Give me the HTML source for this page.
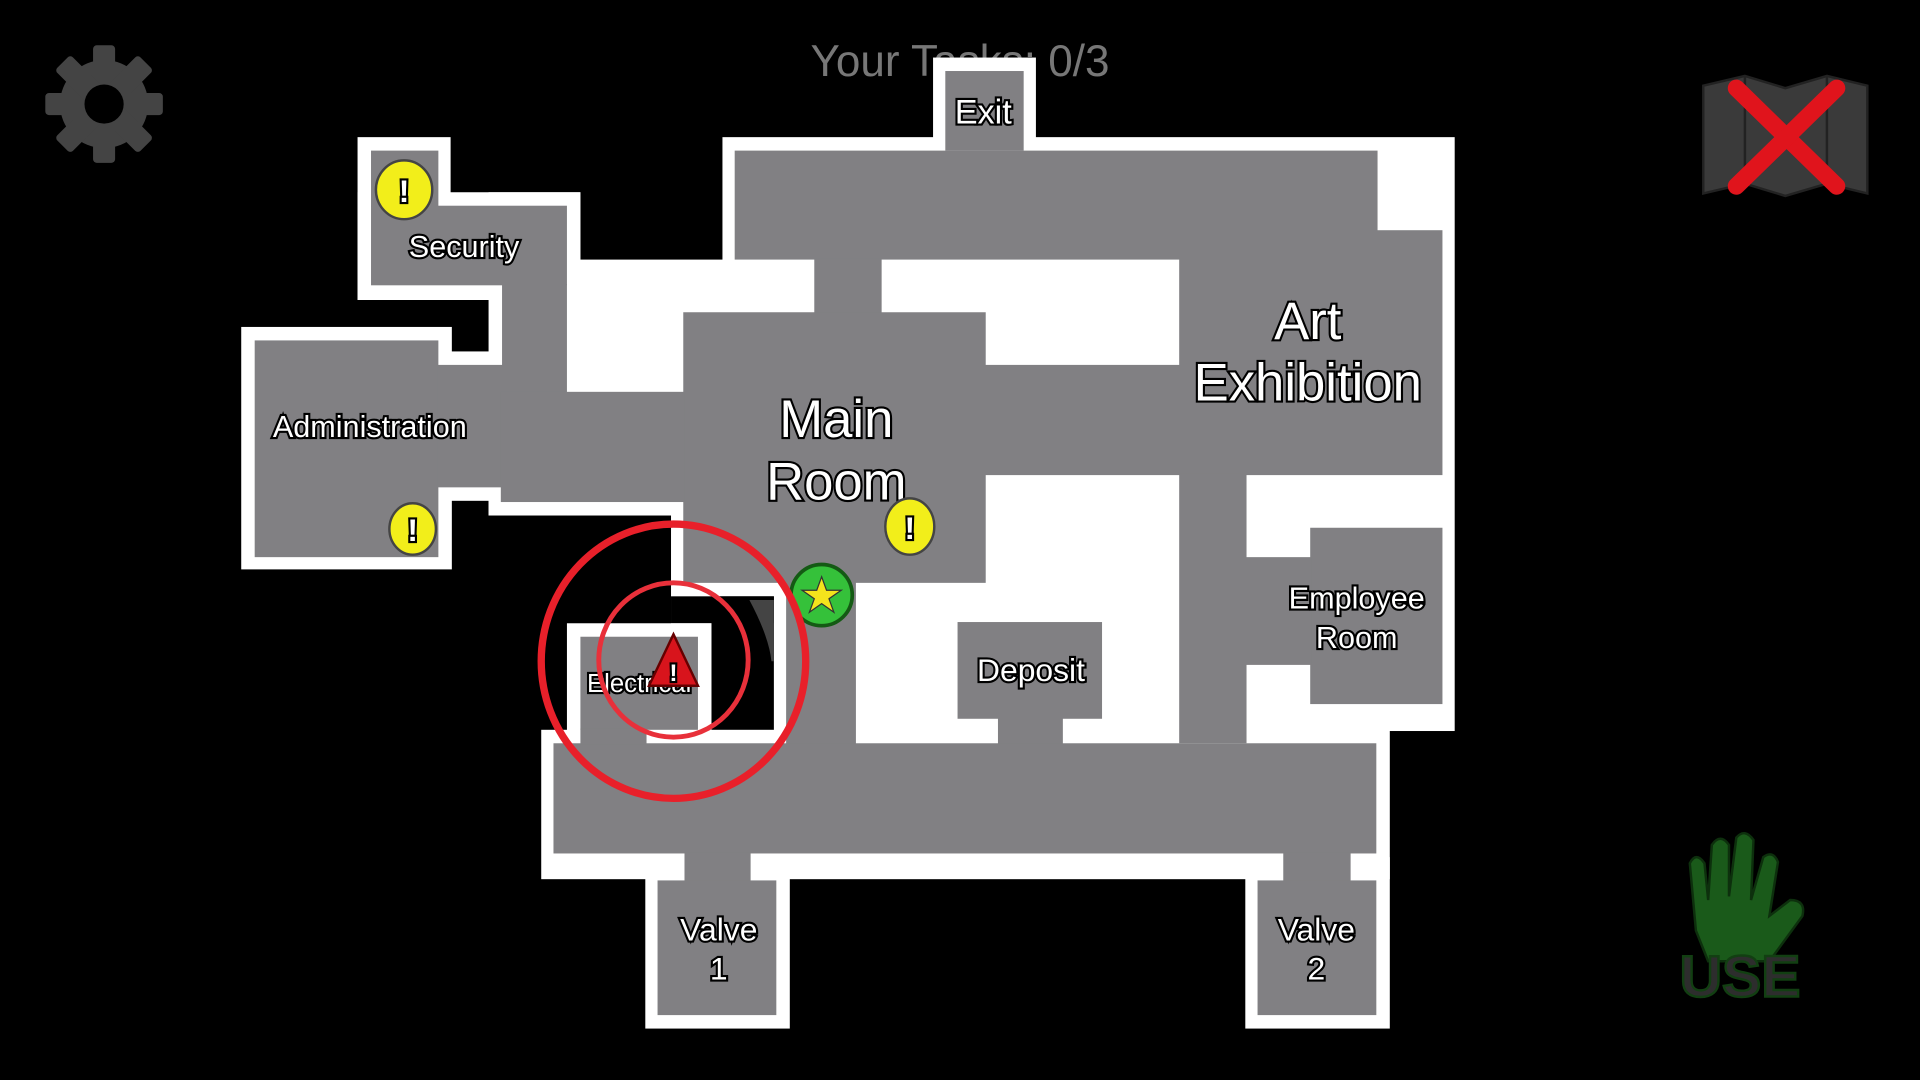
<!DOCTYPE html>
<html><head><meta charset="utf-8"><style>
html,body{margin:0;padding:0;background:#000;overflow:hidden}
svg{display:block}
.l{font-family:"Liberation Sans",sans-serif;fill:#fff;stroke:#000;stroke-width:3.5;paint-order:stroke;text-anchor:middle}
</style></head><body>
<svg width="1920" height="1080" viewBox="0 0 1568 882" preserveAspectRatio="none" xmlns="http://www.w3.org/2000/svg">
<rect width="1568" height="882" fill="#000"/>
<text x="784" y="62" font-family="Liberation Sans,sans-serif" font-size="36" fill="#777" text-anchor="middle">Your Tasks: 0/3</text>
<g fill="#fff">
<rect x="590" y="112" width="598" height="485"/>
<rect x="762" y="47" width="84" height="70"/>
<rect x="463" y="212" width="137" height="209"/>
<rect x="442" y="596" width="693" height="122"/>
<rect x="527" y="700" width="118" height="140"/>
<rect x="1017" y="700" width="118" height="140"/>
<rect x="548" y="410" width="151" height="200"/>
<rect x="292" y="112" width="76" height="133"/>
<rect x="292" y="157" width="182" height="88"/>
<rect x="399" y="157" width="75" height="264"/>
<rect x="197" y="267" width="172" height="198"/>
<rect x="358" y="287" width="52" height="122"/>
<rect x="399" y="309" width="159" height="112"/>
</g>
<rect x="548" y="487" width="84" height="22" fill="#000"/>
<rect x="581" y="487" width="51" height="109" fill="#000"/>
<path d="M612 490 Q628 520 630 540 L632 540 L632 490Z" fill="#444"/>
<rect x="463" y="509" width="118" height="98" fill="#fff"/>
<g fill="#818083">
<rect x="772" y="58" width="64" height="65"/>
<rect x="600" y="123" width="525" height="89"/>
<rect x="665" y="211" width="55" height="45"/>
<rect x="558" y="255" width="247" height="221"/>
<rect x="804" y="298" width="160" height="90"/>
<rect x="963" y="188" width="215" height="200"/>
<rect x="963" y="387" width="55" height="220"/>
<rect x="1070" y="431" width="108" height="144"/>
<rect x="1017" y="455" width="54" height="88"/>
<rect x="782" y="508" width="118" height="79"/>
<rect x="815" y="586" width="53" height="22"/>
<rect x="642" y="475" width="57" height="133"/>
<rect x="452" y="607" width="672" height="90"/>
<rect x="559" y="696" width="54" height="24"/>
<rect x="537" y="719" width="97" height="110"/>
<rect x="1048" y="696" width="55" height="24"/>
<rect x="1027" y="719" width="97" height="110"/>
<rect x="474" y="520" width="96" height="76"/>
<rect x="474" y="595" width="54" height="13"/>
<rect x="303" y="123" width="55" height="46"/>
<rect x="303" y="168" width="160" height="65"/>
<rect x="410" y="232" width="53" height="89"/>
<rect x="208" y="278" width="150" height="177"/>
<rect x="357" y="298" width="54" height="100"/>
<rect x="409" y="320" width="150" height="90"/>
</g>
<text class="l" x="803" y="101" font-size="28">Exit</text>
<text class="l" x="379" y="210" font-size="25">Security</text>
<text class="l" x="302" y="357" font-size="25">Administration</text>
<text class="l" x="683" y="357" font-size="43" stroke-width="4.5">Main</text>
<text class="l" x="683" y="408" font-size="43" stroke-width="4.5">Room</text>
<text class="l" x="1068" y="277" font-size="43" stroke-width="4.5">Art</text>
<text class="l" x="1068" y="327" font-size="43" stroke-width="4.5">Exhibition</text>
<text class="l" x="1108" y="497" font-size="25">Employee</text>
<text class="l" x="1108" y="529" font-size="25">Room</text>
<text class="l" x="842" y="556" font-size="26">Deposit</text>
<text class="l" x="522" y="565" font-size="21">Electrical</text>
<text class="l" x="587" y="768" font-size="26">Valve</text>
<text class="l" x="587" y="800" font-size="26">1</text>
<text class="l" x="1075" y="768" font-size="26">Valve</text>
<text class="l" x="1075" y="800" font-size="26">2</text>
<g stroke="#444" stroke-width="2" fill="#f2ee1a">
<ellipse cx="330" cy="155" rx="23" ry="24"/>
<ellipse cx="337" cy="432" rx="19" ry="21"/>
<ellipse cx="743" cy="430" rx="20" ry="23"/>
</g>
<g font-size="26" font-weight="bold">
<text x="330" y="165" class="l" stroke-width="2">!</text>
<text x="337" y="442" class="l" stroke-width="2">!</text>
<text x="743" y="440" class="l" stroke-width="2">!</text>
</g>
<circle cx="671" cy="486" r="25" fill="#35c13a" stroke="#145a14" stroke-width="3"/>
<polygon points="671,471 675,482 687,482 677,489 681,500 671,493 661,500 665,489 655,482 667,482" fill="#f4e41c" stroke="#333" stroke-width="1"/>
<ellipse cx="550" cy="540" rx="108" ry="112" fill="none" stroke="#e8202a" stroke-width="6"/>
<ellipse cx="550" cy="539" rx="61" ry="63" fill="none" stroke="#e8303a" stroke-width="4"/>
<polygon points="550,518 570,560 530,560" fill="#d8141c" stroke="#600" stroke-width="2"/>
<text class="l" x="550" y="556" font-size="20" font-weight="bold" stroke-width="2">!</text>
<g transform="translate(85,85)" fill="#444">
<circle r="36"/>
<rect x="-9" y="-48" width="18" height="96" rx="3"/>
<rect x="-9" y="-48" width="18" height="96" rx="3" transform="rotate(45)"/>
<rect x="-9" y="-48" width="18" height="96" rx="3" transform="rotate(90)"/>
<rect x="-9" y="-48" width="18" height="96" rx="3" transform="rotate(135)"/>
<circle r="16" fill="#000"/>
</g>
<polygon points="1391,70 1425,62 1458,72 1492,62 1525,70 1525,158 1492,150 1458,160 1425,150 1391,158" fill="#3a3a3a" stroke="#222" stroke-width="2"/>
<line x1="1425" y1="62" x2="1425" y2="150" stroke="#222" stroke-width="2"/>
<line x1="1492" y1="62" x2="1492" y2="150" stroke="#222" stroke-width="2"/>
<g stroke="#e0141c" stroke-width="14" stroke-linecap="round">
<line x1="1418" y1="72" x2="1500" y2="152"/>
<line x1="1500" y1="72" x2="1418" y2="152"/>
</g>
<path d="M1385 760 L1380 705 Q1385 695 1392 705 L1395 735 L1398 690 Q1405 680 1412 690 L1412 732 L1418 684 Q1425 676 1432 686 L1430 735 L1440 700 Q1448 694 1452 704 L1445 748 L1462 735 Q1475 735 1472 748 L1445 785 L1395 785Z" fill="#1a5a1a" stroke="#0d300d" stroke-width="2"/>
<text x="1421" y="814" font-family="Liberation Sans,sans-serif" font-weight="bold" font-size="48" fill="#2d2d2d" stroke="#123f12" stroke-width="2" text-anchor="middle">USE</text>
</svg>
</body></html>
